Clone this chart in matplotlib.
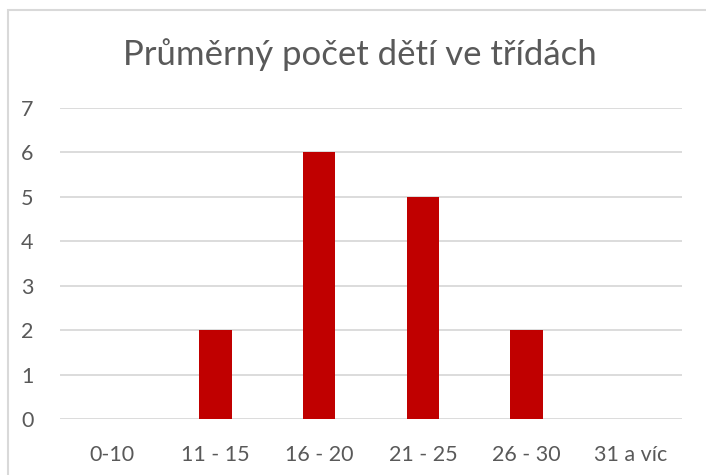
import matplotlib
matplotlib.use("Agg")
import matplotlib.pyplot as plt
from matplotlib.patches import Rectangle

categories = ["0-10", "11 - 15", "16 - 20", "21 - 25", "26 - 30", "31 a víc"]
values = [0, 2, 6, 5, 2, 0]
yticks = [0, 1, 2, 3, 4, 5, 6, 7]
title = "Průměrný počet dětí ve třídách"

plt.rcParams['font.family'] = ['Lato', 'DejaVu Sans']

W, H = 706, 475
fig = plt.figure(figsize=(W/100, H/100), dpi=100)
fig.patch.set_facecolor('white')

# chart border
fig.patches.append(Rectangle((8/W, -0.1), 1.2, (H-10)/H + 0.1, transform=fig.transFigure,
                             fill=False, edgecolor='#d9d9d9', linewidth=1.5, zorder=0))

ax = fig.add_axes([60/W, (H-419)/H, (682-60)/W, (419-108)/H])
x = list(range(len(categories)))
ax.bar(x, values, width=0.31, color='#c00000', zorder=3)
ax.set_xlim(-0.5, len(categories)-0.5)
ax.set_ylim(0, 7)
ax.set_yticks(yticks)
ax.set_xticks(x)
ax.set_xticklabels(categories)
ax.grid(axis='y', color='#d9d9d9', linewidth=1.3, zorder=0)
for s in ax.spines.values():
    s.set_visible(False)
ax.tick_params(axis='both', length=0, labelsize=15.5, labelcolor='#595959')
ax.tick_params(axis='y', pad=19)
ax.tick_params(axis='x', pad=19)

fig.text(360/W, 1-55/H, title, ha='center', va='center', fontsize=25, color='#595959')

fig.savefig("out.png", dpi=100)
